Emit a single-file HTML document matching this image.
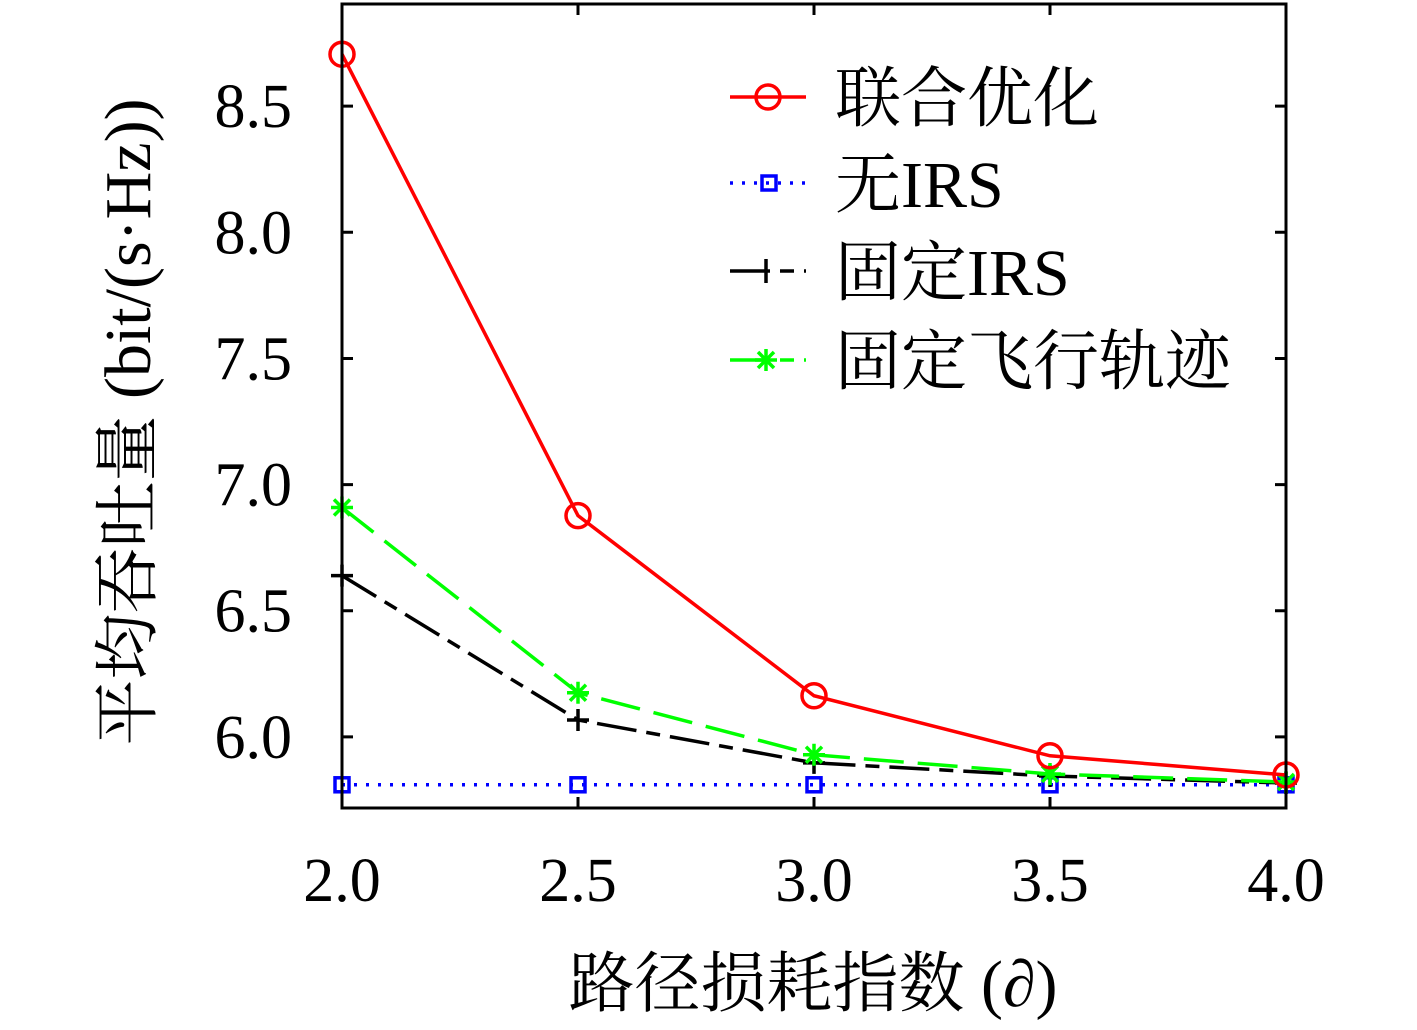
<!DOCTYPE html>
<html><head><meta charset="utf-8"><style>
body{margin:0;background:#fff}
svg text{font-family:"Liberation Serif","Noto Serif CJK SC",serif;fill:#000}
</style></head><body>
<svg id="chart" width="1417" height="1025" viewBox="0 0 1417 1025" xmlns="http://www.w3.org/2000/svg">
<g id="marks"></g>
<g id="axes"></g>
<g>
  <g>
    <line x1="730" y1="97" x2="806" y2="97" stroke="#f00" stroke-width="3.5"/>
    <circle cx="768" cy="97" r="12" fill="none" stroke="#f00" stroke-width="3.5"/>
    <text x="835" y="121" font-size="66">联合优化</text>
  </g>
  <g>
    <line x1="730" y1="183" x2="806" y2="183" stroke="#00f" stroke-width="3.5" stroke-dasharray="3,9"/>
    <rect x="762" y="176" width="14" height="14" fill="none" stroke="#00f" stroke-width="3.5"/>
    <text x="835" y="207" font-size="66">无IRS</text>
  </g>
  <g>
    <line x1="730" y1="271" x2="806" y2="271" stroke="#000" stroke-width="3.5" stroke-dasharray="40,10,14,10"/>
    <line x1="766" y1="259" x2="766" y2="283" stroke="#000" stroke-width="3.5"/>
    <text x="835" y="295" font-size="66">固定IRS</text>
  </g>
  <g>
    <line x1="730" y1="360" x2="806" y2="360" stroke="#0f0" stroke-width="3.5" stroke-dasharray="40,10,14,10"/>
    <g stroke="#0f0" stroke-width="3.5"><line x1="766" y1="349" x2="766" y2="371"/><line x1="755" y1="360" x2="777" y2="360"/><line x1="758" y1="352" x2="774" y2="368"/><line x1="758" y1="368" x2="774" y2="352"/></g>
    <text x="835" y="384" font-size="66">固定飞行轨迹</text>
  </g>
</g>
<text x="813" y="1006" font-size="66" text-anchor="middle">路径损耗指数 (∂)</text>
<text transform="translate(150,422) rotate(-90)" font-size="66" text-anchor="middle">平均吞吐量 (bit/(s·Hz))</text>
</svg>
<script>
const xCats=[2.0,2.5,3.0,3.5,4.0];
const joint=[8.706,6.877,6.163,5.925,5.849];
const noIrs=[5.81,5.81,5.81,5.81,5.81];
const fixedIrs=[6.639,6.067,5.897,5.845,5.817];
const fixedTraj=[6.909,6.175,5.929,5.853,5.821];
const xTicks=["2.0","2.5","3.0","3.5","4.0"];
const yTicks=[6.0,6.5,7.0,7.5,8.0,8.5];
const yTickLabels=["6.0","6.5","7.0","7.5","8.0","8.5"];
const L=342,R=1286,T=4,B=808,X0=2,X1=4,Y0=5.718,Y1=8.905;
const sx=v=>L+(v-X0)/(X1-X0)*(R-L);
const sy=v=>B-(v-Y0)/(Y1-Y0)*(B-T);
const NS="http://www.w3.org/2000/svg";
function mk(tag,attrs,parent){const e=document.createElementNS(NS,tag);for(const k in attrs)e.setAttribute(k,attrs[k]);parent.appendChild(e);return e;}
const marks=document.getElementById('marks'),axes=document.getElementById('axes');
function series(vals,color,dash,name,marker){
  const g=mk('g',{},marks);
  
  
  const pts=vals.map((v,i)=>sx(xCats[i])+','+sy(v)).join(' ');
  const pl=mk('polyline',{points:pts,fill:'none',stroke:color,'stroke-width':3.5,'stroke-dasharray':dash},g);
  
  
  vals.forEach((v,i)=>{
    const x=sx(xCats[i]),y=sy(v);let m;
    if(marker==='o'){m=mk('circle',{cx:x,cy:y,r:12,fill:'none',stroke:color,'stroke-width':3.5},g);}
    else if(marker==='s'){m=mk('rect',{x:x-7,y:y-7,width:14,height:14,fill:'none',stroke:color,'stroke-width':3.5},g);}
    else if(marker==='+'){m=mk('path',{d:`M${x-11},${y}H${x+11}M${x},${y-11}V${y+11}`,stroke:color,'stroke-width':3.5},g);}
    else {m=mk('path',{d:`M${x-11},${y}H${x+11}M${x},${y-11}V${y+11}M${x-8},${y-8}L${x+8},${y+8}M${x-8},${y+8}L${x+8},${y-8}`,stroke:color,'stroke-width':3.5},g);}
    
    
  });
}
series(noIrs,'#00f','3,9','series-no-irs','s');
series(fixedIrs,'#000','40,10,14,10','series-fixed-irs','+');
series(fixedTraj,'#0f0','40,14','series-fixed-trajectory','*');
series(joint,'#f00','none','series-joint-optimization','o');
const fr=mk('rect',{x:L,y:T,width:R-L,height:B-T,fill:'none',stroke:'#000','stroke-width':3},axes);


xCats.forEach((v,i)=>{
  const x=sx(v);
  const t=mk('path',{d:`M${x},${B}V${B-11}M${x},${T}V${T+11}`,stroke:'#000','stroke-width':3},axes);
  
  
  const tx=mk('text',{x:x,y:901,'font-size':62,'text-anchor':'middle'},axes);
  tx.textContent=xTicks[i];
  
  
});
yTicks.forEach((v,i)=>{
  const y=sy(v);
  const t=mk('path',{d:`M${L},${y}H${L+11}M${R},${y}H${R-11}`,stroke:'#000','stroke-width':3},axes);
  
  
  const tx=mk('text',{x:292,y:y+21,'font-size':62,'text-anchor':'end'},axes);
  tx.textContent=yTickLabels[i];
  
  
});
</script>
</body></html>
